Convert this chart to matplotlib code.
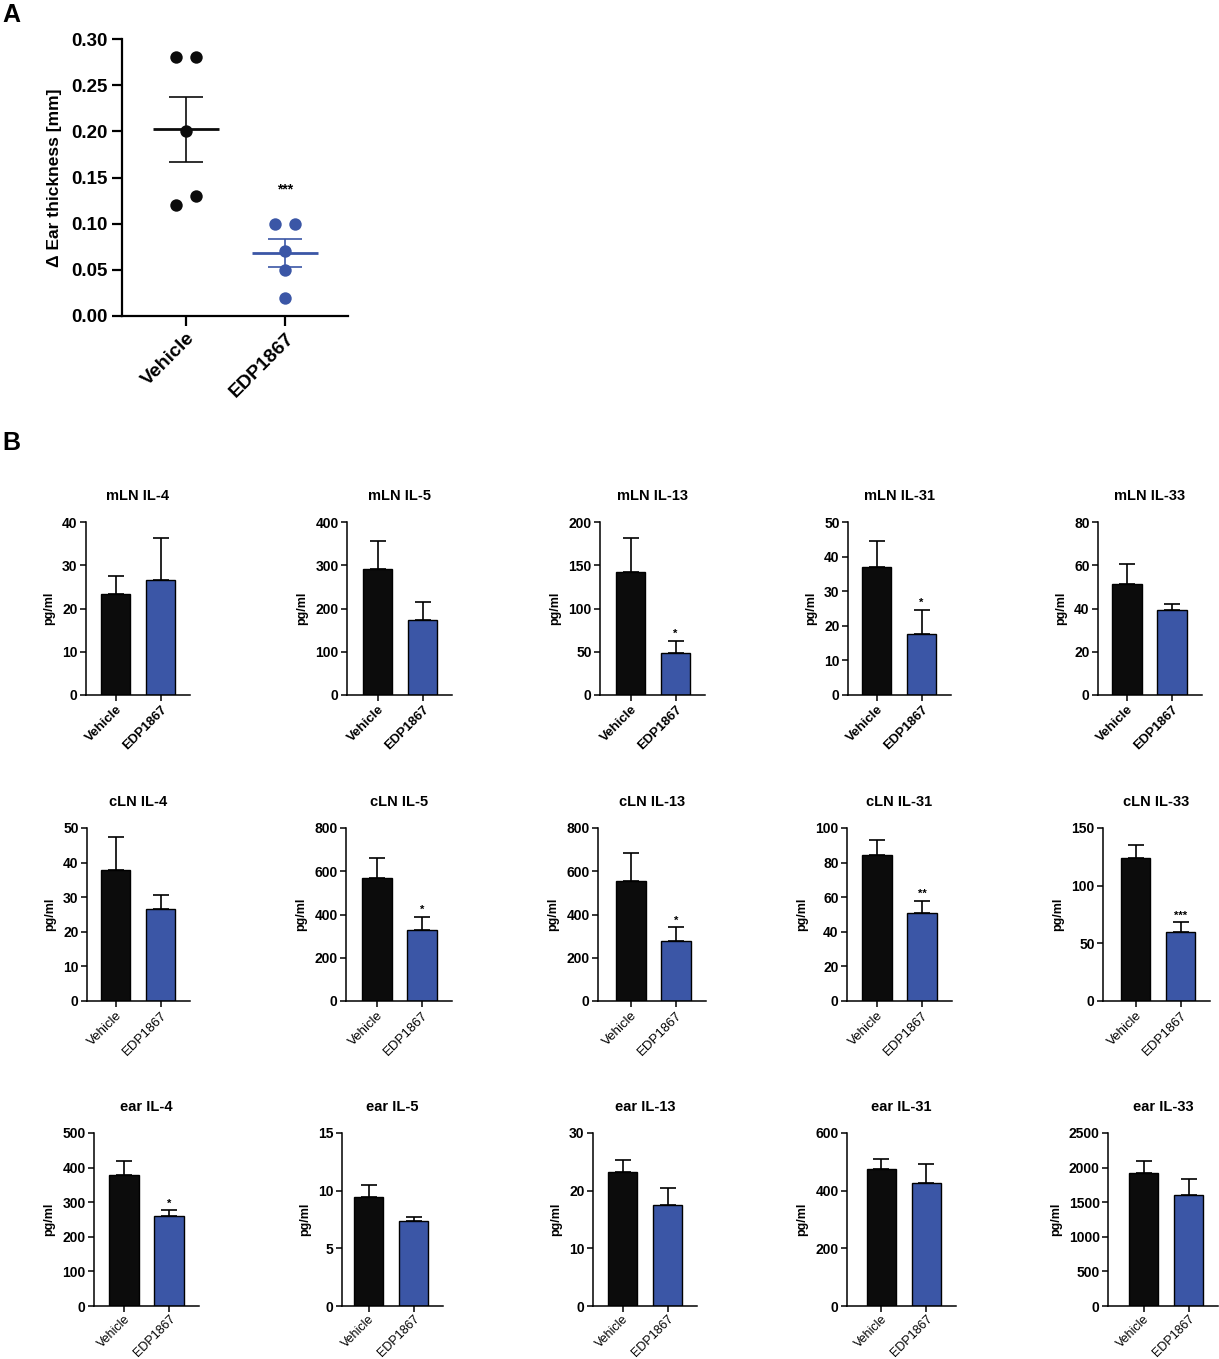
import matplotlib
matplotlib.use('Agg')
import matplotlib.pyplot as plt
import numpy as np

plt.rcParams['font.family'] = ['Liberation Sans', 'DejaVu Sans']

# ---------------- data ----------------
groups = ['Vehicle', 'EDP1867']

# Panel A: individual points, mean and SEM
vehicle_points = [0.28, 0.28, 0.20, 0.13, 0.12]
edp_points = [0.10, 0.10, 0.07, 0.05, 0.02]
group_means = [0.202, 0.068]
group_sems = [0.035, 0.015]
sig_A = ['', '***']
yticks_A = [0.00, 0.05, 0.10, 0.15, 0.20, 0.25, 0.30]

# Panel B rows
mln_titles = ['mLN IL-4', 'mLN IL-5', 'mLN IL-13', 'mLN IL-31', 'mLN IL-33']
mln_vehicle = [23.3, 291, 142, 37.0, 51.5]
mln_vehicle_sem = [4.3, 65, 40, 7.5, 9.0]
mln_edp = [26.7, 174, 48, 17.5, 39.5]
mln_edp_sem = [9.5, 42, 15, 7.2, 2.5]
mln_ymax = [40, 400, 200, 50, 80]
mln_ystep = [10, 100, 50, 10, 20]
mln_sig = ['', '', '*', '*', '']

cln_titles = ['cLN IL-4', 'cLN IL-5', 'cLN IL-13', 'cLN IL-31', 'cLN IL-33']
cln_vehicle = [38.0, 570, 557, 84.5, 124]
cln_vehicle_sem = [9.5, 90, 126, 8.8, 11]
cln_edp = [26.5, 330, 278, 51, 59.5]
cln_edp_sem = [4.2, 60, 65, 7.0, 9.0]
cln_ymax = [50, 800, 800, 100, 150]
cln_ystep = [10, 200, 200, 20, 50]
cln_sig = ['', '*', '*', '**', '***']

ear_titles = ['ear IL-4', 'ear IL-5', 'ear IL-13', 'ear IL-31', 'ear IL-33']
ear_vehicle = [380, 9.45, 23.3, 475, 1925]
ear_vehicle_sem = [40, 1.05, 2.1, 35, 165]
ear_edp = [260, 7.4, 17.5, 428, 1600]
ear_edp_sem = [17, 0.3, 2.9, 64, 240]
ear_ymax = [500, 15, 30, 600, 2500]
ear_ystep = [100, 5, 10, 200, 500]
ear_sig = ['*', '', '', '', '']

# ---------------- style / layout ----------------
BLACK = '#0c0c0c'
BLUE = '#3b56a6'
W, H = 1219, 1359
fig = plt.figure(figsize=(W / 100, H / 100), dpi=100)


def add_ax(l, t, r, b):
    return fig.add_axes([l / W, 1 - b / H, (r - l) / W, (b - t) / H])


# ---------------- Panel A ----------------
axA = add_ax(122, 39, 348, 316)
jitter = [[-0.105, 0.105, 0.0, 0.105, -0.105], [-0.105, 0.105, 0.0, 0.0, 0.0]]
colorsA = [BLACK, BLUE]
for i, pts in enumerate([vehicle_points, edp_points]):
    xs = [i + j for j in jitter[i]]
    axA.scatter(xs, pts, s=80, color=colorsA[i], zorder=3, linewidths=0)
    axA.hlines(group_means[i], i - 0.33, i + 0.33, color=colorsA[i], lw=2.0, zorder=4)
    axA.errorbar([i], [group_means[i]], yerr=[group_sems[i]], fmt='none',
                 ecolor=colorsA[i], elinewidth=1.2, capsize=12, capthick=1.2, zorder=4)
    if sig_A[i]:
        axA.text(i, 0.137, sig_A[i], ha='center', va='center', fontsize=10,
                 fontweight='bold')
axA.set_xlim(-0.646, 1.636)
axA.set_ylim(0, 0.30)
axA.set_yticks(yticks_A)
axA.set_yticklabels([f'{v:.2f}' for v in yticks_A], fontsize=13.5, fontweight='bold')
axA.set_xticks([0, 1])
axA.set_xticklabels(groups, rotation=45, ha='right', va='top', rotation_mode='anchor',
                    fontsize=14, fontweight='bold')
axA.set_ylabel('Δ Ear thickness [mm]', fontsize=12.5, fontweight='bold', labelpad=7)
for s in ['top', 'right']:
    axA.spines[s].set_visible(False)
for s in ['left', 'bottom']:
    axA.spines[s].set_linewidth(1.6)
axA.tick_params(axis='both', length=7, width=1.6, pad=3)

fig.text(2 / W, 1 - 15 / H, 'A', fontsize=18, fontweight='bold', va='center', ha='left')
fig.text(2 / W, 1 - 443 / H, 'B', fontsize=18, fontweight='bold', va='center', ha='left')

# ---------------- Panel B ----------------
rows = [
    (mln_titles, mln_vehicle, mln_vehicle_sem, mln_edp, mln_edp_sem, mln_ymax, mln_ystep, mln_sig),
    (cln_titles, cln_vehicle, cln_vehicle_sem, cln_edp, cln_edp_sem, cln_ymax, cln_ystep, cln_sig),
    (ear_titles, ear_vehicle, ear_vehicle_sem, ear_edp, ear_edp_sem, ear_ymax, ear_ystep, ear_sig),
]
row_tops = [522, 828, 1133]
row_bottoms = [695, 1001, 1306]
ax_left_px = [[86, 347, 600, 848, 1098],
              [87, 346, 598, 847, 1103],
              [94, 342, 593, 847, 1108]]
first_bar_px = [[115.5, 377.5, 630.5, 876.5, 1127],
                [115.5, 377, 631, 877, 1135.5],
                [124, 368.5, 622.5, 881.5, 1143.5]]
xlabel_size = [9.5, 9.5, 9.0]
SP = 45.0
BW = 29.5

for r, (titles, veh, veh_sem, edp, edp_sem, ymax, ystep, sig) in enumerate(rows):
    for c in range(5):
        left = ax_left_px[r][c]
        c0 = first_bar_px[r][c]
        right = c0 + SP + BW
        ax = add_ax(left, row_tops[r], right, row_bottoms[r])
        vals = [veh[c], edp[c]]
        errs = [veh_sem[c], edp_sem[c]]
        ax.bar([0, 1], vals, width=BW / SP, color=[BLACK, BLUE], edgecolor='black',
               linewidth=1.0, zorder=2)
        ax.errorbar([0, 1], vals, yerr=[[0, 0], errs], fmt='none', ecolor='black',
                    elinewidth=1.2, capsize=5.5, capthick=1.2, zorder=3)
        if sig[c]:
            ax.annotate(sig[c], (1, vals[1] + errs[1]), xytext=(0, 1),
                        textcoords='offset points', ha='center', va='bottom',
                        fontsize=8, fontweight='bold')
        ax.set_xlim(-(c0 - left) / SP, (right - c0) / SP)
        ax.set_ylim(0, ymax[c])
        yt = np.arange(0, ymax[c] + ystep[c] * 0.5, ystep[c])
        ax.set_yticks(yt)
        ax.set_yticklabels([f'{v:g}' for v in yt], fontsize=10, fontweight='bold')
        ax.set_xticks([0, 1])
        ax.set_xticklabels(groups, rotation=45, ha='right', va='top',
                           rotation_mode='anchor', fontsize=xlabel_size[r],
                           fontweight='bold' if r == 0 else 'normal')
        ax.set_ylabel('pg/ml', fontsize=9, fontweight='bold', labelpad=5)
        ax.set_title(titles[c], fontsize=10.5, fontweight='bold', pad=16)
        for s in ['top', 'right']:
            ax.spines[s].set_visible(False)
        for s in ['left', 'bottom']:
            ax.spines[s].set_linewidth(1.1)
        ax.tick_params(axis='both', length=4, width=1.1, pad=2)
        if r == 2:
            ax.tick_params(axis='x', pad=1)

fig.savefig('out.png', dpi=100)
